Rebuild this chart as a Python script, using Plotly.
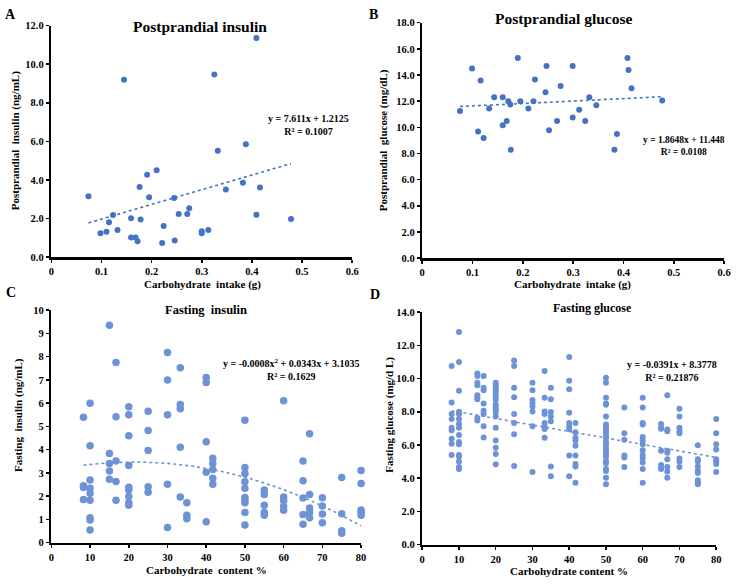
import numpy as np
import plotly.graph_objects as go

W, H = 738, 584
FONT = "Times New Roman, Liberation Serif, serif"
DARK = "#4472C4"
LIGHT = "#6E92D6"

# ---------------- Panel A: postprandial insulin ----------------
a_x = [0.074, 0.098, 0.110, 0.115, 0.123, 0.132, 0.145, 0.159, 0.159, 0.168, 0.172, 0.176,
       0.178, 0.191, 0.195, 0.210, 0.221, 0.224, 0.245, 0.246, 0.254, 0.271, 0.275, 0.300,
       0.300, 0.313, 0.325, 0.332, 0.348, 0.382, 0.388, 0.409, 0.409, 0.416, 0.478]
a_y = [3.15, 1.24, 1.32, 1.81, 2.19, 1.41, 9.19, 2.02, 1.02, 1.02, 0.83, 3.64,
       1.95, 4.27, 3.10, 4.51, 0.73, 1.61, 3.07, 0.86, 2.24, 2.24, 2.53, 1.24,
       1.34, 1.41, 9.47, 5.51, 3.51, 3.86, 5.85, 11.36, 2.20, 3.61, 1.98]
a_coef = [7.611, 1.2125]

# ---------------- Panel B: postprandial glucose ----------------
b_x = [0.075, 0.099, 0.111, 0.116, 0.122, 0.133, 0.143, 0.160, 0.160, 0.168, 0.171, 0.175,
       0.176, 0.190, 0.195, 0.211, 0.221, 0.224, 0.245, 0.247, 0.252, 0.268, 0.275, 0.299,
       0.299, 0.312, 0.324, 0.332, 0.346, 0.382, 0.387, 0.408, 0.410, 0.416, 0.477]
b_y = [11.25, 14.5, 9.68, 13.58, 9.18, 11.43, 12.3, 12.3, 10.15, 10.48, 12.0, 11.75,
       8.28, 15.3, 12.0, 11.43, 12.0, 13.65, 12.68, 14.68, 9.78, 10.48, 13.15, 14.68,
       10.75, 11.35, 10.48, 12.3, 11.68, 8.28, 9.48, 15.3, 14.38, 12.98, 12.05]
b_coef = [1.8648, 11.448]

# ---------------- Panel C: fasting insulin ----------------
c_groups = {
    8.3: [5.39, 2.45, 2.37, 1.86],
    10: [6.0, 4.17, 2.70, 2.34, 2.13, 1.82, 1.07, 0.97, 0.54],
    15: [9.35, 3.83, 3.41, 3.08, 2.73],
    16.7: [7.75, 5.41, 3.51, 2.63, 1.82],
    20: [5.85, 5.5, 4.6, 3.32, 2.38, 2.27, 1.99, 1.72, 1.61],
    25: [5.65, 4.82, 3.96, 2.41, 2.17],
    30: [8.18, 7.0, 5.5, 2.51, 0.65],
    33.3: [7.52, 5.94, 5.76, 4.10, 1.96],
    35: [1.72, 1.18, 1.03],
    40: [7.1, 6.89, 4.34, 3.03, 0.90],
    41.7: [3.63, 3.41, 3.15, 2.77, 2.51],
    50: [5.27, 3.23, 2.97, 2.62, 2.34, 1.94, 1.80, 1.72, 1.30, 0.76],
    55: [2.27, 2.07, 1.61, 1.30, 1.18],
    60: [6.1, 1.96, 1.80, 1.56, 1.39],
    65: [3.51, 2.66, 1.92, 1.21, 0.79],
    66.7: [4.68, 2.07, 1.49, 1.30, 1.07],
    70: [1.93, 1.58, 1.23, 0.86],
    75: [2.80, 1.24, 0.51, 0.41],
    80: [3.10, 2.54, 1.41, 1.30, 1.18],
}
c_coef = [-0.0008, 0.0343, 3.1035]

# ---------------- Panel D: fasting glucose ----------------
d_groups = {
    8: [10.75, 8.55, 7.86, 7.56, 7.03, 6.89, 6.37, 6.08, 5.39],
    10: [12.8, 11.0, 9.27, 8.0, 7.86, 7.56, 7.27, 7.03, 6.6, 6.18, 6.04, 5.39, 5.31, 5.0, 4.67, 4.55],
    15: [10.3, 10.16, 9.74, 9.6, 9.0, 8.87, 8.75, 7.62, 7.47],
    16.7: [10.16, 9.45, 9.29, 8.5, 8.06, 7.86, 7.13, 6.45],
    20: [9.74, 9.6, 9.45, 9.3, 9.1, 8.87, 8.71, 8.42, 8.26, 8.1, 7.98, 7.72, 7.03, 6.27, 5.84, 5.45, 4.84],
    25: [11.09, 10.75, 9.45, 8.87, 7.86, 7.33, 6.65, 4.73],
    30: [9.74, 9.3, 8.71, 8.5, 8.32, 8.02, 7.13, 4.37],
    33.3: [10.46, 8.85, 8.02, 7.86, 7.33, 7.09, 6.96, 6.43],
    35: [9.45, 8.75, 7.98, 7.72, 7.43, 4.71, 4.12],
    40: [11.29, 9.86, 9.35, 7.94, 7.33, 7.13, 6.94, 5.37, 4.12],
    41.7: [7.33, 6.76, 6.43, 6.27, 5.96, 5.37, 4.86, 4.71, 3.73],
    50: [10.04, 9.74, 8.85, 8.5, 8.42, 7.72, 7.23, 7.07, 6.89, 6.76, 6.63, 6.43, 6.18, 6.04,
         5.84, 5.65, 5.49, 5.29, 5.02, 4.9, 4.55, 4.43, 4.02, 3.63],
    55: [8.26, 6.7, 6.31, 5.37, 5.25, 4.67],
    60: [8.85, 8.26, 7.33, 7.23, 6.48, 6.27, 6.04, 5.69, 5.39, 5.2, 4.94, 4.55, 3.73],
    65: [7.27, 7.03, 6.98, 5.65, 4.8, 4.63, 4.55],
    66.7: [9.0, 6.93, 6.83, 5.65, 5.53, 5.14, 4.67, 4.41, 4.02],
    70: [8.18, 7.72, 7.03, 6.83, 6.7, 5.18, 5.0, 4.67],
    75: [5.98, 5.14, 5.0, 4.71, 4.43, 4.31, 3.88, 3.73, 3.63],
    80: [7.56, 6.7, 6.04, 5.73, 5.14, 5.02, 4.86, 4.37],
}
d_coef = [-0.0391, 8.3778]


def flat(groups):
    xs, ys = [], []
    for k, vals in groups.items():
        xs += [k] * len(vals)
        ys += vals
    return xs, ys


c_x, c_y = flat(c_groups)
d_x, d_y = flat(d_groups)


def pxx(p):
    return p / W


def pxy(p):
    return 1 - p / H


fig = go.Figure()

panels = [
    dict(x=a_x, y=a_y, coef=a_coef, color=DARK, size=6, ax="", xr=[0, 0.6], yr=[0, 12], dtx=0.1, dty=2,
         yfmt=".1f", dom_x=[49, 354], dom_y=[21, 257]),
    dict(x=b_x, y=b_y, coef=b_coef, color=DARK, size=6, ax="2", xr=[0, 0.6], yr=[0, 18], dtx=0.1, dty=2,
         yfmt=".1f", dom_x=[425, 731], dom_y=[18, 258]),
    dict(x=c_x, y=c_y, coef=c_coef, color=LIGHT, size=7.5, ax="3", xr=[0, 80], yr=[0, 10], dtx=10, dty=1,
         yfmt="", dom_x=[49, 363], dom_y=[311, 548]),
    dict(x=d_x, y=d_y, coef=d_coef, color=LIGHT, size=6, ax="4", xr=[0, 80], yr=[0, 14], dtx=10, dty=2,
         yfmt=".1f", dom_x=[425, 723], dom_y=[313, 550]),
]

layout = {}
for p in panels:
    xa = "x" + p["ax"]
    ya = "y" + p["ax"]
    fig.add_trace(go.Scatter(x=p["x"], y=p["y"], mode="markers", xaxis=xa, yaxis=ya,
                             marker=dict(color=p["color"], size=p["size"], line=dict(width=0)),
                             showlegend=False, cliponaxis=False))
    xmin, xmax = min(p["x"]), max(p["x"])
    tx = np.linspace(xmin, xmax, 100)
    ty = np.polyval(p["coef"], tx)
    fig.add_trace(go.Scatter(x=tx, y=ty, mode="lines", xaxis=xa, yaxis=ya,
                             line=dict(color=p["color"], width=1.6, dash="dot"),
                             showlegend=False))
    axis_common = dict(showgrid=False, zeroline=False, showline=True, linecolor="black", linewidth=2.5,
                       ticks="outside", ticklen=3, tickwidth=1.5, tickcolor="black",
                       tickfont=dict(family=FONT, size=10.5, color="black", weight="bold"))
    xkey = "xaxis" + p["ax"]
    ykey = "yaxis" + p["ax"]
    layout[xkey] = dict(axis_common, range=p["xr"], dtick=p["dtx"], tick0=0,
                        domain=[pxx(p["dom_x"][0]), pxx(p["dom_x"][1])], anchor=ya)
    layout[ykey] = dict(axis_common, range=p["yr"], dtick=p["dty"], tick0=0, tickformat=p["yfmt"],
                        domain=[pxy(p["dom_y"][1]), pxy(p["dom_y"][0])], anchor=xa)

fig.update_layout(**layout)

ann = []


def text(s, x, y, size, angle=0, xanchor="center", yanchor="middle", align="center"):
    ann.append(dict(text=s, x=pxx(x), y=pxy(y), xref="paper", yref="paper", showarrow=False,
                    textangle=angle, xanchor=xanchor, yanchor=yanchor, align=align,
                    font=dict(family=FONT, size=size, color="black", weight="bold")))


# panel letters
text("A", 8, 10, 14)
text("B", 376, 10, 14)
text("C", 8, 293, 14)
text("D", 377, 295, 14)

# titles
text("Postprandial insulin", 200, 22, 15.5)
text("Postprandial glucose", 568, 14, 15.5)
text("Fasting  insulin", 206, 311, 12.5)
text("Fasting glucose", 598, 309, 12)

# axis titles
text("Carbohydrate  intake (g)", 202, 285, 11)
text("Carbohydrate  intake (g)", 577, 285, 11)
text("Carbohydrate  content %", 206, 576, 11)
text("Carbohydrate content %", 574, 577, 11)
text("Postprandial  insulin (ng/mL)", 13, 138, 11, angle=-90)
text("Postprandial  glucose (mg/dL)", 386, 138, 11, angle=-90)
text("Fasting  insulin (ng/mL)", 15, 418, 11, angle=-90)
text("Fasting glucose (mg/d L)", 391, 418, 11, angle=-90)

# equations
text("y = 7.611x + 1.2125<br>R² = 0.1007", 310, 122, 10)
text("y = 1.8648x + 11.448<br>R² = 0.0108", 690, 144, 9.5)
text("y = -0.0008x<sup>2</sup> + 0.0343x + 3.1035<br>R² = 0.1629", 292, 371, 10)
text("y = -0.0391x + 8.3778<br>R² = 0.21876", 678, 373, 10)

fig.update_layout(width=W, height=H, margin=dict(l=0, r=0, t=0, b=0),
                  paper_bgcolor="white", plot_bgcolor="white", annotations=ann,
                  hovermode=False, font=dict(family=FONT, color="black"))

# remove the browser's default page margin so the figure fills the window exactly
fig.write_html("out.html", config={"displayModeBar": False, "staticPlot": True},
               post_script="document.body.style.margin='0';document.body.style.overflow='hidden';")
